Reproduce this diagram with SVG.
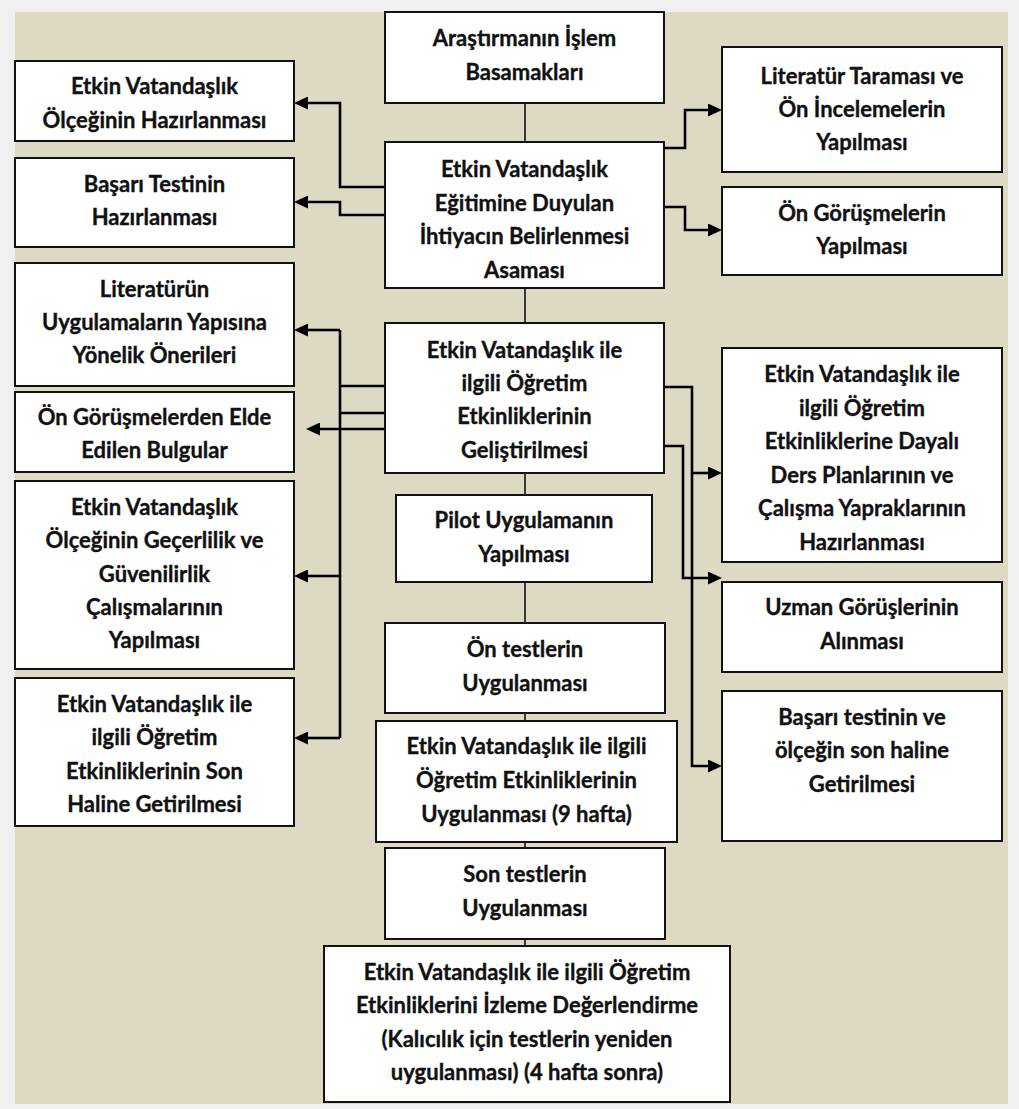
<svg xmlns="http://www.w3.org/2000/svg" width="1019" height="1109" viewBox="0 0 1019 1109">
  <defs>
    <style>
      .box { fill: #ffffff; stroke: #111111; stroke-width: 2; }
      .lbl { font-family: "Lato", "Open Sans", "Liberation Sans", sans-serif; font-weight: 700; font-size: 22px; fill: #111111; stroke: #111111; stroke-width: 0.35px; text-anchor: middle; }
      .trunk { fill: none; stroke: #111111; stroke-width: 1.6; }
      .link { fill: none; stroke: #000000; stroke-width: 2.6; }
      .arrow { fill: none; stroke: #000000; stroke-width: 2.6; marker-end: url(#head); }
    </style>
    <marker id="head" markerWidth="14" markerHeight="13" refX="0" refY="6.5" orient="auto" markerUnits="userSpaceOnUse">
      <path d="M0,0 L14,6.5 L0,13 Z" fill="#000000"/>
    </marker>
  </defs>

  <!-- page and panel -->
  <rect x="0" y="0" width="1019" height="1109" fill="#f0f0f0"/>
  <rect x="15" y="12" width="993" height="1092" fill="#ddd9c3"/>

  <!-- connectors -->
  <g id="connectors">
    <!-- main column spine -->
    <path class="trunk" d="M525,103 V946"/>
    <!-- need-analysis stage, left outputs -->
    <path class="arrow" d="M385,187 H340 V103 H308"/>
    <path class="arrow" d="M385,215 H340 V202 H308"/>
    <!-- need-analysis stage, right inputs -->
    <path class="arrow" d="M664,148 H685 V110 H708"/>
    <path class="arrow" d="M664,207 H685 V230 H708"/>
    <!-- development stage, left bus -->
    <path class="link" d="M385,386 H340"/>
    <path class="link" d="M385,413 H340"/>
    <path class="link" d="M340,330 V738"/>
    <path class="arrow" d="M340,330 H308"/>
    <path class="arrow" d="M340,576 H308"/>
    <path class="arrow" d="M340,738 H308"/>
    <path class="arrow" d="M385,429 H320"/>
    <!-- development stage, right outputs -->
    <path class="arrow" d="M664,387 H692 V766 H708"/>
    <path class="arrow" d="M692,473 H708"/>
    <path class="arrow" d="M664,446 H683 V578 H708"/>
  </g>

  <!-- centre column -->
  <g id="n-basamaklar">
    <rect class="box" x="385" y="12" width="279" height="91"/>
    <text class="lbl" x="524.5" y="46"><tspan x="524.5">Araştırmanın İşlem</tspan><tspan x="524.5" dy="33.6">Basamakları</tspan></text>
  </g>
  <g id="n-ihtiyac">
    <rect class="box" x="385" y="142" width="279" height="146"/>
    <text class="lbl" x="524.5" y="177"><tspan x="524.5">Etkin Vatandaşlık</tspan><tspan x="524.5" dy="33.6">Eğitimine Duyulan</tspan><tspan x="524.5" dy="33.6">İhtiyacın Belirlenmesi</tspan><tspan x="524.5" dy="33.6">Asaması</tspan></text>
  </g>
  <g id="n-gelistirme">
    <rect class="box" x="385" y="323" width="279" height="150"/>
    <text class="lbl" x="524.5" y="358"><tspan x="524.5">Etkin Vatandaşlık ile</tspan><tspan x="524.5" dy="33.2">ilgili Öğretim</tspan><tspan x="524.5" dy="33.2">Etkinliklerinin</tspan><tspan x="524.5" dy="33.2">Geliştirilmesi</tspan></text>
  </g>
  <g id="n-pilot">
    <rect class="box" x="396" y="495" width="256" height="87"/>
    <text class="lbl" x="524" y="528"><tspan x="524">Pilot Uygulamanın</tspan><tspan x="524" dy="33.6">Yapılması</tspan></text>
  </g>
  <g id="n-ontest">
    <rect class="box" x="385" y="623" width="280" height="90"/>
    <text class="lbl" x="525" y="657"><tspan x="525">Ön testlerin</tspan><tspan x="525" dy="33.6">Uygulanması</tspan></text>
  </g>
  <g id="n-uygulama">
    <rect class="box" x="376" y="721" width="301" height="121"/>
    <text class="lbl" x="526.5" y="754"><tspan x="526.5">Etkin Vatandaşlık ile ilgili</tspan><tspan x="526.5" dy="34">Öğretim Etkinliklerinin</tspan><tspan x="526.5" dy="34">Uygulanması (9 hafta)</tspan></text>
  </g>
  <g id="n-sontest">
    <rect class="box" x="385" y="848" width="280" height="91"/>
    <text class="lbl" x="525" y="882"><tspan x="525">Son testlerin</tspan><tspan x="525" dy="33.6">Uygulanması</tspan></text>
  </g>
  <g id="n-izleme">
    <rect class="box" x="324" y="946" width="406" height="156"/>
    <text class="lbl" x="527" y="980"><tspan x="527">Etkin Vatandaşlık ile ilgili Öğretim</tspan><tspan x="527" dy="33.4">Etkinliklerini İzleme Değerlendirme</tspan><tspan x="527" dy="33.4">(Kalıcılık için testlerin yeniden</tspan><tspan x="527" dy="33.4">uygulanması) (4 hafta sonra)</tspan></text>
  </g>

  <!-- left column -->
  <g id="n-olcek">
    <rect class="box" x="15" y="61" width="279" height="80"/>
    <text class="lbl" x="154.5" y="94"><tspan x="154.5">Etkin Vatandaşlık</tspan><tspan x="154.5" dy="33.6">Ölçeğinin Hazırlanması</tspan></text>
  </g>
  <g id="n-basari">
    <rect class="box" x="15" y="158" width="279" height="89"/>
    <text class="lbl" x="154.5" y="192"><tspan x="154.5">Başarı Testinin</tspan><tspan x="154.5" dy="33">Hazırlanması</tspan></text>
  </g>
  <g id="n-literaturun">
    <rect class="box" x="15" y="263" width="279" height="123"/>
    <text class="lbl" x="154.5" y="297"><tspan x="154.5">Literatürün</tspan><tspan x="154.5" dy="33.2">Uygulamaların Yapısına</tspan><tspan x="154.5" dy="33.2">Yönelik Önerileri</tspan></text>
  </g>
  <g id="n-bulgular">
    <rect class="box" x="15" y="392" width="279" height="80"/>
    <text class="lbl" x="154.5" y="425"><tspan x="154.5">Ön Görüşmelerden Elde</tspan><tspan x="154.5" dy="33.2">Edilen Bulgular</tspan></text>
  </g>
  <g id="n-gecerlilik">
    <rect class="box" x="15" y="481" width="279" height="188"/>
    <text class="lbl" x="154.5" y="515"><tspan x="154.5">Etkin Vatandaşlık</tspan><tspan x="154.5" dy="33.3">Ölçeğinin Geçerlilik ve</tspan><tspan x="154.5" dy="33.3">Güvenilirlik</tspan><tspan x="154.5" dy="33.3">Çalışmalarının</tspan><tspan x="154.5" dy="33.3">Yapılması</tspan></text>
  </g>
  <g id="n-sonhal">
    <rect class="box" x="15" y="678" width="279" height="148"/>
    <text class="lbl" x="154.5" y="712"><tspan x="154.5">Etkin Vatandaşlık ile</tspan><tspan x="154.5" dy="33.3">ilgili Öğretim</tspan><tspan x="154.5" dy="33.3">Etkinliklerinin Son</tspan><tspan x="154.5" dy="33.3">Haline Getirilmesi</tspan></text>
  </g>

  <!-- right column -->
  <g id="n-tarama">
    <rect class="box" x="722" y="47" width="280" height="125"/>
    <text class="lbl" x="862" y="84"><tspan x="862">Literatür Taraması ve</tspan><tspan x="862" dy="33">Ön İncelemelerin</tspan><tspan x="862" dy="33">Yapılması</tspan></text>
  </g>
  <g id="n-gorusme">
    <rect class="box" x="722" y="187" width="280" height="88"/>
    <text class="lbl" x="862" y="221"><tspan x="862">Ön Görüşmelerin</tspan><tspan x="862" dy="33.4">Yapılması</tspan></text>
  </g>
  <g id="n-dersplan">
    <rect class="box" x="722" y="348" width="280" height="214"/>
    <text class="lbl" x="862" y="382"><tspan x="862">Etkin Vatandaşlık ile</tspan><tspan x="862" dy="33.6">ilgili Öğretim</tspan><tspan x="862" dy="33.6">Etkinliklerine Dayalı</tspan><tspan x="862" dy="33.6">Ders Planlarının ve</tspan><tspan x="862" dy="33.6">Çalışma Yapraklarının</tspan><tspan x="862" dy="33.6">Hazırlanması</tspan></text>
  </g>
  <g id="n-uzman">
    <rect class="box" x="722" y="582" width="280" height="90"/>
    <text class="lbl" x="862" y="615"><tspan x="862">Uzman Görüşlerinin</tspan><tspan x="862" dy="34">Alınması</tspan></text>
  </g>
  <g id="n-sonhaline">
    <rect class="box" x="722" y="691" width="280" height="150"/>
    <text class="lbl" x="862" y="725"><tspan x="862">Başarı testinin ve</tspan><tspan x="862" dy="33.4">ölçeğin son haline</tspan><tspan x="862" dy="33.4">Getirilmesi</tspan></text>
  </g>
</svg>
